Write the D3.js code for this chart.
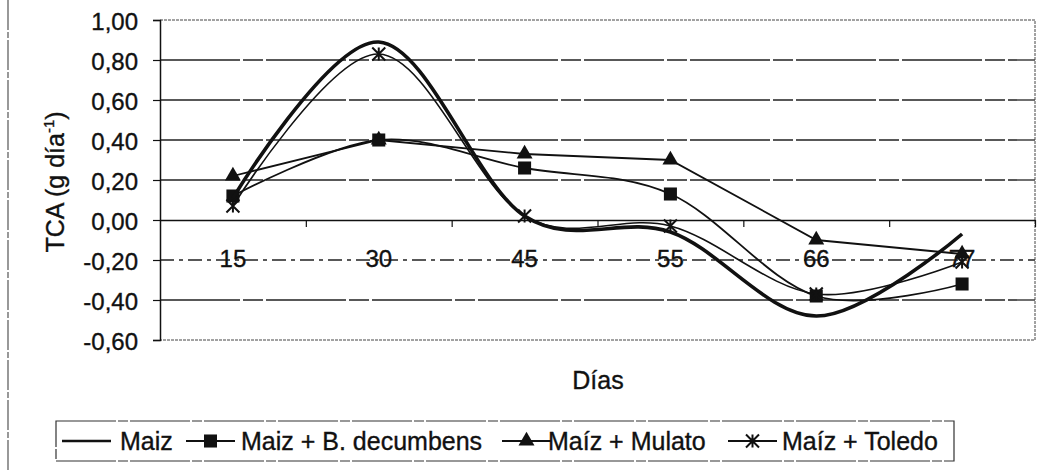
<!DOCTYPE html>
<html>
<head>
<meta charset="utf-8">
<script src="https://cdn.jsdelivr.net/npm/d3@7"></script>
<style>
  body { margin: 0; background: #fff; }
  svg { display: block; font-family: "Liberation Sans", Arial, sans-serif; }
  svg text { stroke: #111; stroke-width: 0.35px; }
</style>
</head>
<body>
<div id="chart"></div>
<script>
const categories = ["15", "30", "45", "55", "66", "77"];
const maiz = [0.11, 0.89, 0.02, -0.06, -0.48, -0.07];
const maizDecumbens = [0.12, 0.40, 0.26, 0.13, -0.38, -0.32];
const maizMulato = [0.22, 0.40, 0.33, 0.30, -0.10, -0.17];
const maizToledo = [0.07, 0.83, 0.02, -0.03, -0.37, -0.21];
const yTicks = [-0.6, -0.4, -0.2, 0, 0.2, 0.4, 0.6, 0.8, 1.0];
const seriesNames = ["Maiz", "Maiz + B. decumbens", "Maíz + Mulato", "Maíz + Toledo"];

const width = 1041, height = 470;
const plot = { left: 160, right: 1035, top: 20, bottom: 340 };

const svg = d3.select("#chart").append("svg")
  .attr("width", width)
  .attr("height", height);

const x = d3.scaleBand()
  .domain(categories)
  .range([plot.left, plot.right]);

const y = d3.scaleLinear()
  .domain([-0.6, 1.0])
  .range([plot.bottom, plot.top]);

// outer chart border (left edge only visible)
svg.append("line")
  .attr("x1", 8).attr("x2", 8)
  .attr("y1", 0).attr("y2", height)
  .attr("stroke", "#555")
  .attr("stroke-width", 1.2)
  .attr("stroke-dasharray", "30,2,6,2");

// gridlines
svg.append("g")
  .selectAll("line")
  .data(yTicks.filter(d => d !== 0 && d !== -0.6 && d !== 1.0))
  .join("line")
  .attr("x1", plot.left).attr("x2", plot.right)
  .attr("y1", d => y(d)).attr("y2", d => y(d))
  .attr("stroke", "#222")
  .attr("stroke-width", 1.3)
  .attr("stroke-dasharray", d => d === -0.2 ? "14,5,4,5" : "80,3,20,3");

// plot border (top, right, bottom) dotted
svg.append("path")
  .attr("d", `M${plot.left},${y(1.0)}H${plot.right}V${y(-0.6)}H${plot.left}`)
  .attr("fill", "none")
  .attr("stroke", "#444")
  .attr("stroke-width", 1)
  .attr("stroke-dasharray", "3,1");

// y axis
const yAxis = svg.append("g")
  .attr("transform", `translate(${plot.left},0)`)
  .call(d3.axisLeft(y)
    .tickValues(yTicks)
    .tickFormat(d => d.toFixed(2).replace(".", ","))
    .tickSize(7)
    .tickPadding(15));
yAxis.select(".domain").attr("stroke", "#111").attr("stroke-width", 1.5);
yAxis.selectAll(".tick line").attr("stroke", "#111").attr("stroke-width", 1.2);
yAxis.selectAll("text")
  .attr("font-size", 24)
  .attr("fill", "#111")
  .attr("dy", "0.4em");

// x axis at zero
const xAxis = svg.append("g")
  .attr("transform", `translate(0,${y(0)})`)
  .call(d3.axisBottom(x).tickSize(0).tickPadding(30));
xAxis.select(".domain").attr("stroke", "#111").attr("stroke-width", 1.5);
xAxis.selectAll("text").attr("font-size", 24).attr("fill", "#111");

// category boundary ticks
const xEdge = d3.scaleLinear().domain([0, categories.length]).range([plot.left, plot.right]);
const edgeAxis = svg.append("g")
  .attr("transform", `translate(0,${y(0)})`)
  .call(d3.axisBottom(xEdge)
    .tickValues(d3.range(1, categories.length + 1))
    .tickFormat("")
    .tickSize(7));
edgeAxis.select(".domain").remove();
edgeAxis.selectAll(".tick line").attr("stroke", "#111").attr("stroke-width", 1.2);

// axis titles
svg.append("text")
  .attr("x", 598)
  .attr("y", 389)
  .attr("text-anchor", "middle")
  .attr("font-size", 25)
  .attr("fill", "#111")
  .text("Días");

const yTitle = svg.append("text")
  .attr("transform", "translate(64,182) rotate(-90)")
  .attr("text-anchor", "middle")
  .attr("font-size", 25)
  .attr("fill", "#111");
yTitle.append("tspan").text("TCA (g día");
yTitle.append("tspan").attr("font-size", 15).attr("dy", -10).text("-1");
yTitle.append("tspan").attr("dy", 10).text(")");

// series
const cx = (d, i) => x(categories[i]) + x.bandwidth() / 2;
const smooth = d3.line().x(cx).y(d => y(d)).curve(d3.curveCardinal.tension(0));
const straight = d3.line().x(cx).y(d => y(d));

const starPath = s => `M${-s},${-s}L${s},${s}M${-s},${s}L${s},${-s}M0,${-s}L0,${s}`;

const series = [
  { name: seriesNames[0], values: maiz, width: 3.6, marker: null, line: smooth },
  { name: seriesNames[1], values: maizDecumbens, width: 1.8, marker: "square", line: smooth },
  { name: seriesNames[2], values: maizMulato, width: 1.8, marker: "triangle", line: straight },
  { name: seriesNames[3], values: maizToledo, width: 1.6, marker: "star", line: smooth }
];

function drawMarker(sel, type) {
  if (type === "square") {
    sel.append("path").attr("d", d3.symbol(d3.symbolSquare, 170)())
      .attr("fill", "#111");
  } else if (type === "triangle") {
    sel.append("path").attr("d", d3.symbol(d3.symbolTriangle, 110)())
      .attr("fill", "#111");
  } else if (type === "star") {
    sel.append("path").attr("d", starPath(6.5))
      .attr("fill", "none").attr("stroke", "#111").attr("stroke-width", 2);
  }
}

// draw thin series first, thick Maiz on top
[1, 2, 3, 0].forEach(k => {
  const s = series[k];
  svg.append("path")
    .datum(s.values)
    .attr("fill", "none")
    .attr("stroke", "#111")
    .attr("stroke-width", s.width)
    .attr("d", s.line);
  if (s.marker) {
    svg.append("g").selectAll("g")
      .data(s.values)
      .join("g")
      .attr("transform", (d, i) => `translate(${cx(d, i)},${y(d)})`)
      .each(function() { drawMarker(d3.select(this), s.marker); });
  }
});

// legend
const legend = svg.append("g");
legend.append("rect")
  .attr("x", 56).attr("y", 421)
  .attr("width", 898).attr("height", 40)
  .attr("fill", "#fff")
  .attr("stroke", "#333")
  .attr("stroke-width", 1.2)
  .attr("stroke-dasharray", "60,2,10,2");

const legendLineX = [62, 186, 502, 728];
const legendTextX = [120, 241, 548, 782];
series.forEach((s, i) => {
  const g = legend.append("g");
  g.append("line")
    .attr("x1", legendLineX[i]).attr("x2", legendLineX[i] + 49)
    .attr("y1", 441).attr("y2", 441)
    .attr("stroke", "#111")
    .attr("stroke-width", i === 0 ? 2.4 : 1.8);
  if (s.marker) {
    const m = g.append("g").attr("transform", `translate(${legendLineX[i] + 24.5},441)`);
    drawMarker(m, s.marker);
  }
  g.append("text")
    .attr("x", legendTextX[i])
    .attr("y", 450)
    .attr("font-size", 25)
    .attr("fill", "#111")
    .text(s.name);
});
</script>
</body>
</html>
